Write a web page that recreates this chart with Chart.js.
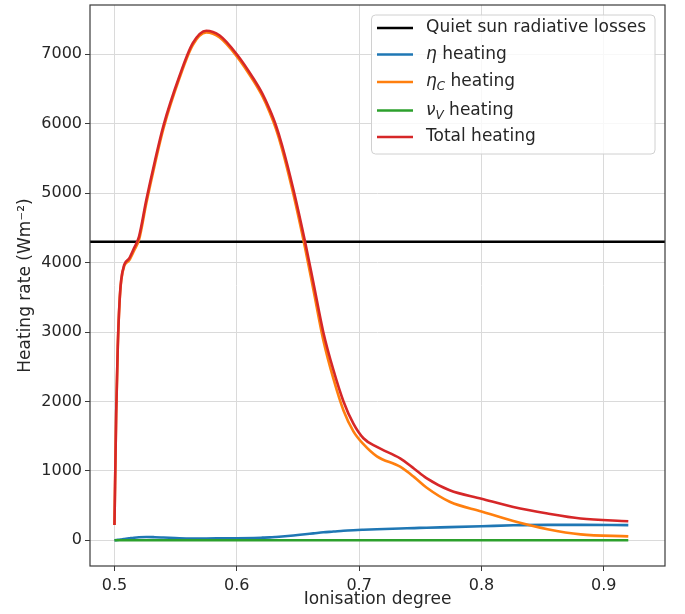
<!DOCTYPE html>
<html><head><meta charset="utf-8">
<script src="https://cdn.jsdelivr.net/npm/chart.js@4/dist/chart.umd.min.js"></script>
<style>html,body{margin:0;padding:0;background:#fff}canvas{display:block}</style>
</head><body>
<canvas id="c" width="685" height="614"></canvas>
<script>
// ---- data ----
const ionisation = [0.5, 0.5014, 0.5027, 0.5041, 0.5055, 0.508, 0.512, 0.516, 0.52, 0.526, 0.533, 0.54, 0.553, 0.564, 0.575, 0.586, 0.6, 0.614, 0.621, 0.627, 0.632, 0.637, 0.6463, 0.6558, 0.6626, 0.6708, 0.679, 0.6872, 0.6953, 0.7035, 0.7145, 0.7335, 0.745, 0.755, 0.774, 0.8, 0.826, 0.854, 0.881, 0.92];
const totalHeating = [220, 1830, 2790, 3420, 3750, 3970, 4060, 4210, 4370, 4900, 5460, 5970, 6680, 7160, 7340, 7270, 7000, 6640, 6430, 6200, 5975, 5690, 5050, 4300, 3710, 2990, 2450, 2000, 1680, 1470, 1345, 1180, 1030, 895, 720, 600, 480, 385, 313, 275];
const etaHeating = [0, 3, 6, 9, 12, 18, 28, 38, 45, 48, 45, 40, 30, 27, 27, 28, 30, 34, 38, 42, 48, 55, 70, 88, 100, 115, 126, 138, 146, 152, 159, 170, 176, 182, 190, 202, 216, 222, 222, 218];
const etaCHeating = [220, 1827, 2784, 3411, 3738, 3952, 4032, 4172, 4325, 4852, 5415, 5930, 6650, 7133, 7313, 7242, 6970, 6606, 6392, 6158, 5927, 5635, 4980, 4212, 3610, 2875, 2324, 1870, 1570, 1385, 1210, 1060, 910, 760, 555, 415, 278, 160, 86, 57];
const nuVHeating = [0, 0, 0, 0, 0, 0, 0, 0, 0, 0, 0, 0, 0, 0, 0, 0, 0, 0, 0, 0, 0, 0, 0, 0, 0, 0, 0, 0, 0, 0, 0, 0, 0, 0, 0, 0, 0, 0, 0, 0];
const quietSunLosses = 4300;
const xTickValues = [0.5, 0.6, 0.7, 0.8, 0.9];
const yTickValues = [0, 1000, 2000, 3000, 4000, 5000, 6000, 7000];
const xRange = [0.48, 0.95];
const yRange = [-370, 7710];
const seriesLabels = ['Quiet sun radiative losses', 'η heating', 'ηC heating', 'νV heating', 'Total heating'];
const seriesColors = ['#000000', '#1f77b4', '#ff7f0e', '#2ca02c', '#d62728'];

const FONT = "'DejaVu Sans', sans-serif";
const TEXT = '#262626';

const pts = ys => ionisation.map((x, i) => ({x, y: ys[i]}));

// legend rich-text parts (real text, with italic / subscript markers)
const legendParts = [
  [['Quiet sun radiative losses', 'n']],
  [['η', 'i'], [' heating', 'n']],
  [['η', 'i'], ['C', 'sub'], [' heating', 'n']],
  [['ν', 'i'], ['V', 'sub'], [' heating', 'n']],
  [['Total heating', 'n']]
];

const framePlugin = {
  id: 'frame',
  afterDatasetsDraw(chart) {
    const a = chart.chartArea, ctx = chart.ctx;
    ctx.save();
    ctx.strokeStyle = '#3a3a3a';
    ctx.lineWidth = 1.2;
    ctx.strokeRect(a.left, a.top, a.right - a.left, a.bottom - a.top);
    ctx.restore();
  }
};

const legendPlugin = {
  id: 'mplLegend',
  afterDraw(chart) {
    const ctx = chart.ctx;
    const bx = 371.5, by = 15, bw = 283.5, bh = 139, r = 4;
    ctx.save();
    ctx.beginPath();
    ctx.moveTo(bx + r, by);
    ctx.arcTo(bx + bw, by, bx + bw, by + bh, r);
    ctx.arcTo(bx + bw, by + bh, bx, by + bh, r);
    ctx.arcTo(bx, by + bh, bx, by, r);
    ctx.arcTo(bx, by, bx + bw, by, r);
    ctx.closePath();
    ctx.fillStyle = 'rgba(255,255,255,0.8)';
    ctx.fill();
    ctx.strokeStyle = '#d0d0d0';
    ctx.lineWidth = 1;
    ctx.stroke();
    const rows = [28, 54.5, 82, 110.5, 137];
    rows.forEach((ry, i) => {
      ctx.strokeStyle = seriesColors[i];
      ctx.lineWidth = 2.6;
      ctx.beginPath();
      ctx.moveTo(377, ry);
      ctx.lineTo(413, ry);
      ctx.stroke();
      let tx = 426;
      ctx.fillStyle = TEXT;
      ctx.textBaseline = 'middle';
      ctx.textAlign = 'left';
      legendParts[i].forEach(([t, k]) => {
        let yy = ry;
        if (k === 'n') ctx.font = '17px ' + FONT;
        else if (k === 'i') ctx.font = 'italic 17px ' + FONT;
        else { ctx.font = 'italic 12px ' + FONT; yy = ry + 5; }
        ctx.fillText(t, tx, yy);
        tx += ctx.measureText(t).width;
      });
    });
    ctx.restore();
  }
};

const ctx = document.getElementById('c').getContext('2d');
new Chart(ctx, {
  type: 'line',
  data: {
    datasets: [
      {label: seriesLabels[4], data: pts(totalHeating), borderColor: seriesColors[4], borderWidth: 2.6, order: 0},
      {label: seriesLabels[3], data: pts(nuVHeating), borderColor: seriesColors[3], borderWidth: 2.6, order: 1},
      {label: seriesLabels[2], data: pts(etaCHeating), borderColor: seriesColors[2], borderWidth: 2.6, order: 2},
      {label: seriesLabels[1], data: pts(etaHeating), borderColor: seriesColors[1], borderWidth: 2.6, order: 3},
      {label: seriesLabels[0], data: [{x: xRange[0], y: quietSunLosses}, {x: xRange[1], y: quietSunLosses}], borderColor: seriesColors[0], borderWidth: 2.6, order: 4, cubicInterpolationMode: 'default', tension: 0}
    ]
  },
  options: {
    responsive: false,
    animation: false,
    devicePixelRatio: 1,
    parsing: false,
    elements: {point: {radius: 0}, line: {cubicInterpolationMode: 'monotone', fill: false}},
    layout: {padding: {left: 0, top: 5, right: 20, bottom: 0}},
    plugins: {legend: {display: false}, tooltip: {enabled: false}},
    scales: {
      x: {
        type: 'linear', min: xRange[0], max: xRange[1],
        afterBuildTicks: s => { s.ticks = xTickValues.map(v => ({value: v})); },
        afterFit: s => { s.height = 48; s.paddingLeft = 0; s.paddingRight = 0; },
        ticks: {font: {family: FONT, size: 16}, color: TEXT, padding: 5, maxRotation: 0, callback: v => v.toFixed(1)},
        grid: {color: '#dadada', lineWidth: 1, tickLength: 5, tickColor: '#3a3a3a'},
        border: {display: false},
        title: {display: true, text: 'Ionisation degree', font: {family: FONT, size: 17}, color: TEXT, padding: {top: 0, bottom: 4}}
      },
      y: {
        type: 'linear', min: yRange[0], max: yRange[1],
        afterBuildTicks: s => { s.ticks = yTickValues.map(v => ({value: v})); },
        afterFit: s => { s.width = 90; s.paddingTop = 0; s.paddingBottom = 0; },
        ticks: {font: {family: FONT, size: 16}, color: TEXT, padding: 3, callback: v => String(v)},
        grid: {color: '#dadada', lineWidth: 1, tickLength: 5, tickColor: '#3a3a3a'},
        border: {display: false},
        title: {display: true, text: 'Heating rate (Wm⁻²)', font: {family: FONT, size: 17}, color: TEXT, padding: {top: 15, bottom: 0}}
      }
    }
  },
  plugins: [framePlugin, legendPlugin]
});
</script>
</body></html>
